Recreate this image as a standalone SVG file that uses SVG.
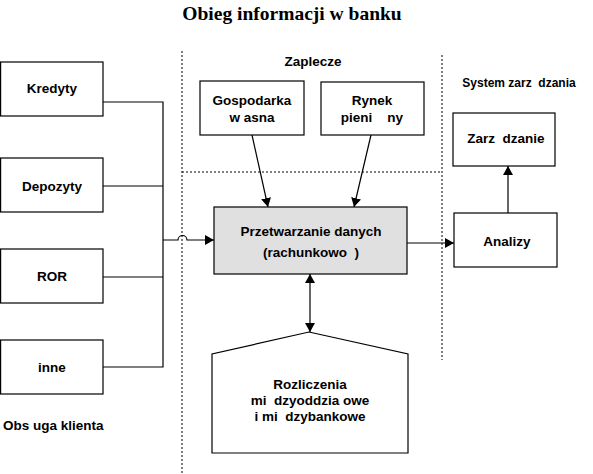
<svg xmlns="http://www.w3.org/2000/svg" width="593" height="474" viewBox="0 0 593 474">
<style>
.box{fill:#fff;stroke:#000;stroke-width:1.2}
.proc{fill:#e0e0e0;stroke:#000;stroke-width:1.2}
.lbl{font-family:"Liberation Sans",Arial,sans-serif;font-weight:bold;font-size:13.5px;fill:#000;text-anchor:middle;white-space:pre}
.left{text-anchor:start}
.small{font-size:12px}
.title{font-family:"Liberation Serif","Times New Roman",serif;font-weight:bold;font-size:19.5px;text-anchor:middle;fill:#000}
.line{fill:none;stroke:#000;stroke-width:1.2}
.dot{fill:none;stroke:#000;stroke-width:1;stroke-dasharray:2,2}
</style>
<defs>
<marker id="arr" markerUnits="userSpaceOnUse" markerWidth="9" markerHeight="10" viewBox="0 0 9 10" refX="9" refY="5" orient="auto-start-reverse">
<path d="M0,0 L9,5 L0,10 z" fill="#000"/>
</marker>
</defs>
<text class="title" x="292" y="20">Obieg informacji w banku</text>
<g id="regions">
<line class="dot" x1="182" y1="51" x2="182" y2="474"/>
<line class="dot" x1="442" y1="55" x2="442" y2="360"/>
<line class="dot" x1="182" y1="172" x2="442" y2="172"/>
<text class="lbl" x="313" y="66">Zaplecze</text>
<text class="lbl small" x="519" y="87" xml:space="preserve">System zarz  dzania</text>
<text class="lbl left" x="3" y="430" xml:space="preserve">Obs uga klienta</text>
</g>
<g id="connectors">
<polyline class="line" points="103,102 163,102 163,367 103,367"/>
<line class="line" x1="103" y1="186" x2="163" y2="186"/>
<line class="line" x1="103" y1="277" x2="163" y2="277"/>
<path class="line" d="M163,240 H178 A4.5,4.5 0 0 1 187,240 H214" marker-end="url(#arr)"/>
<line class="line" x1="252" y1="135" x2="268" y2="207" marker-end="url(#arr)"/>
<line class="line" x1="371" y1="135" x2="354" y2="207" marker-end="url(#arr)"/>
<line class="line" x1="407" y1="243" x2="454" y2="243" marker-end="url(#arr)"/>
<line class="line" x1="508" y1="213" x2="508" y2="166" marker-end="url(#arr)"/>
<line class="line" x1="310" y1="274" x2="310" y2="332" marker-start="url(#arr)" marker-end="url(#arr)"/>
</g>
<g id="kredyty">
<rect class="box" x="0.6" y="62" width="102.4" height="54"/>
<text class="lbl" x="52" y="93">Kredyty</text>
</g>
<g id="depozyty">
<rect class="box" x="0.6" y="158" width="102.4" height="54"/>
<text class="lbl" x="52" y="191">Depozyty</text>
</g>
<g id="ror">
<rect class="box" x="0.6" y="249" width="102.4" height="54"/>
<text class="lbl" x="52" y="281">ROR</text>
</g>
<g id="inne">
<rect class="box" x="0.6" y="340" width="102.4" height="54"/>
<text class="lbl" x="52" y="372">inne</text>
</g>
<g id="gospodarka">
<rect class="box" x="200" y="81" width="104" height="54"/>
<text class="lbl" x="252" y="105">Gospodarka</text>
<text class="lbl" x="252" y="122" xml:space="preserve">w asna</text>
</g>
<g id="rynek">
<rect class="box" x="321" y="82" width="103" height="53"/>
<text class="lbl" x="372" y="105">Rynek</text>
<text class="lbl" x="372" y="122" xml:space="preserve">pieni    ny</text>
</g>
<g id="przetwarzanie">
<rect class="proc" x="214" y="207" width="193" height="67"/>
<text class="lbl" x="311" y="236">Przetwarzanie danych</text>
<text class="lbl" x="311" y="257" xml:space="preserve">(rachunkowo  )</text>
</g>
<g id="zarzadzanie">
<rect class="box" x="453" y="113" width="102" height="53"/>
<text class="lbl" x="506" y="143" xml:space="preserve">Zarz  dzanie</text>
</g>
<g id="analizy">
<rect class="box" x="454" y="213" width="103" height="54"/>
<text class="lbl" x="507" y="246">Analizy</text>
</g>
<g id="rozliczenia">
<polygon class="box" points="309,332 408,354 408,453 212,453 212,354"/>
<text class="lbl" x="310" y="389">Rozliczenia</text>
<text class="lbl" x="310" y="405" xml:space="preserve">mi  dzyoddzia owe</text>
<text class="lbl" x="310" y="421" xml:space="preserve">i mi  dzybankowe</text>
</g>
</svg>
